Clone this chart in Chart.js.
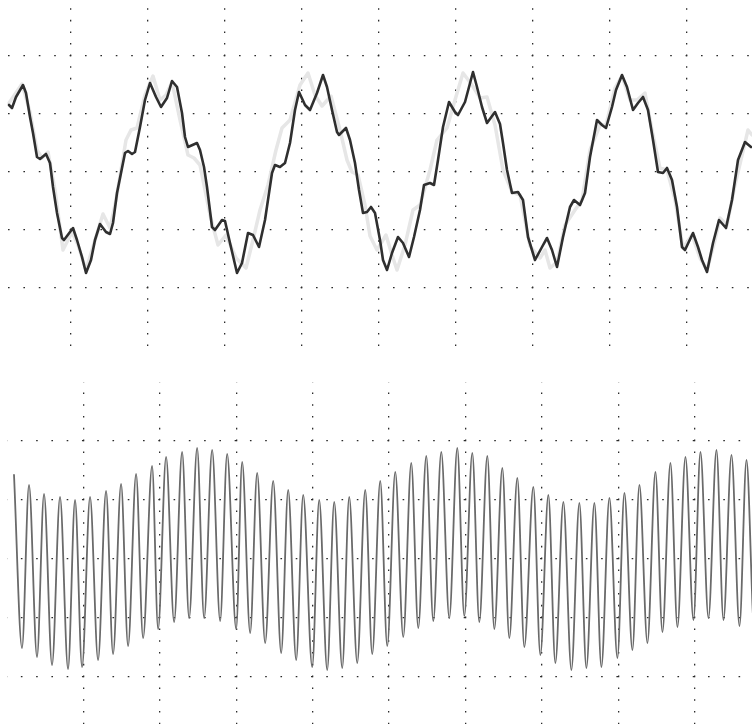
<!DOCTYPE html>
<html><head><meta charset="utf-8">
<script src="https://cdn.jsdelivr.net/npm/chart.js@4"></script>
<style>
html,body{margin:0;padding:0;background:#fff;overflow:hidden;width:752px;height:724px;position:relative}
canvas{position:absolute}
#top{left:-6px;top:-2px}
#bot{left:7px;top:382px}
</style></head><body>
<canvas id="top" width="770" height="348"></canvas>
<canvas id="bot" width="764" height="354"></canvas>
<script>
// Upper trace: sample index vs ADC counts (58 counts / division, 77 samples / division)
const topSample = [15,18,22,29,32,36,39,43,46,52,56,59,63,68,70,79,83,88,92,97,101,106,112,116,119,123,127,131,134,138,141,146,151,156,162,167,173,178,183,188,191,194,203,206,210,213,218,221,228,231,236,243,248,254,259,265,271,278,281,286,291,296,301,305,311,316,323,329,333,338,343,345,352,356,361,365,369,373,377,381,386,389,393,398,404,409,415,420,426,430,436,440,444,449,455,461,464,471,479,483,488,493,501,506,509,513,518,524,529,534,541,548,553,558,563,569,576,580,586,591,596,603,608,612,618,622,628,633,639,644,649,654,659,664,669,673,678,683,688,691,699,704,708,713,719,725,732,738,744,751,757];
const topTrace = [67,64,75,87,79,55,39,15,13,18,9,-15,-41,-66,-68,-56,-68,-85,-101,-88,-68,-52,-60,-62,-51,-21,-1,19,21,18,20,45,72,89,75,65,74,91,85,59,35,25,29,22,5,-15,-55,-58,-48,-49,-71,-101,-91,-61,-63,-75,-48,-1,7,5,9,29,62,80,67,62,79,97,85,62,40,37,44,32,9,-18,-41,-40,-35,-41,-68,-88,-98,-81,-65,-71,-85,-65,-38,-13,-11,-13,12,45,70,60,57,70,100,85,65,49,60,48,29,2,-21,-20,-28,-65,-88,-75,-66,-78,-95,-65,-35,-28,-33,-21,15,52,47,44,65,82,97,85,62,69,75,62,32,0,-1,4,-8,-35,-75,-78,-61,-75,-88,-100,-71,-48,-56,-28,12,30,25];
// Faint reference (ghost) trace on the upper screen
const ghostSample = [15,28,36,43,48,54,61,69,78,84,92,98,109,116,122,132,137,143,151,159,166,172,178,186,194,200,206,216,224,232,242,252,259,266,274,282,288,296,306,314,321,328,337,346,353,358,364,371,376,383,392,398,403,411,419,426,436,443,453,461,469,478,486,493,501,509,518,526,536,546,551,556,563,571,581,588,596,606,612,621,628,636,643,651,658,666,673,681,689,698,706,713,721,726,733,741,754,758];
const ghostTrace = [69,88,60,22,14,20,-18,-78,-60,-73,-98,-78,-42,-56,-28,32,42,44,77,96,72,77,90,52,17,14,7,-43,-73,-63,-86,-96,-68,-38,-13,22,44,52,87,99,77,66,76,42,12,0,-3,-33,-64,-78,-63,-83,-98,-73,-38,-33,2,32,44,72,99,87,74,75,47,2,-20,-23,-74,-86,-78,-96,-90,-53,-38,-28,22,47,47,84,96,72,72,79,42,4,2,-28,-76,-63,-86,-98,-68,-46,-53,-13,42,37];
// Lower trace: modulated carrier, peaks and troughs (59 counts / division)
const botSample = [7,15,22,30,37,45,53,61,68,75,83,91,99,106,114,121,129,136,145,151,159,167,175,182,190,197,205,213,220,229,235,243,250,258,266,274,281,289,296,305,312,320,327,335,342,350,358,365,373,380,388,396,404,411,419,426,434,442,450,457,465,472,480,487,495,502,510,517,526,533,541,548,556,564,572,579,587,594,602,610,617,625,632,640,648,655,663,670,678,686,693,701,709,716,724,732,739,747,754];
const botTrace = [84,-89,74,-98,65,-106,62,-110,59,-108,62,-101,68,-95,75,-87,85,-79,93,-70,102,-63,107,-59,111,-59,109,-62,105,-70,97,-74,86,-84,78,-94,69,-101,64,-108,59,-111,57,-109,62,-104,69,-95,78,-87,87,-78,96,-69,103,-62,107,-59,111,-57,106,-63,103,-70,91,-79,81,-88,72,-96,64,-104,57,-111,56,-109,56,-108,61,-99,66,-91,74,-84,87,-73,96,-68,102,-61,107,-59,109,-61,104,-67,99,-73,89];
// Graticule positions
const topGridX = [77,154,231,308,385,462,539,616,693];
const topGridY = [-116,-58,0,58,116];
const botGridX = [76.35,152.7,229.05,305.4,381.75,458.1,534.45,610.8,687.15];
const botGridY = [-118,-59,0,59,118];

const pts = (xs, ys) => xs.map((x, i) => ({x, y: ys[i]}));

function axis(min, max, ticks, period) {
  return {
    type: 'linear', min, max,
    ticks: {display: false},
    grid: {color: '#2a2a2a', lineWidth: 1.3, drawTicks: false},
    border: {display: false, dash: [1.6, period - 1.6], dashOffset: 1.4},
    afterBuildTicks: s => { s.ticks = ticks.map(v => ({value: v})); }
  };
}
function opts(xs, ys) {
  return {
    responsive: false, animation: false, events: [],
    layout: {padding: 0},
    plugins: {legend: {display: false}, tooltip: {enabled: false}},
    elements: {point: {radius: 0}, line: {borderJoinStyle: 'round', borderCapStyle: 'round'}},
    scales: {x: xs, y: ys}
  };
}

new Chart(document.getElementById('top'), {
  type: 'line',
  data: {datasets: [
    {data: pts(topSample, topTrace), borderColor: '#2f2f2f', borderWidth: 2.6, tension: 0},
    {data: pts(ghostSample, ghostTrace), borderColor: '#e6e6e6', borderWidth: 3.5, tension: 0}
  ]},
  options: opts(axis(0, 770, topGridX, 11.6), axis(-174, 174, topGridY, 15.4))
});

new Chart(document.getElementById('bot'), {
  type: 'line',
  data: {datasets: [
    {data: pts(botSample, botTrace), borderColor: '#6a6a6a', borderWidth: 1.8, cubicInterpolationMode: 'monotone'}
  ]},
  options: opts(axis(0, 763.5, botGridX, 11.8), axis(-177, 177, botGridY, 15.27))
});
</script>
</body></html>
